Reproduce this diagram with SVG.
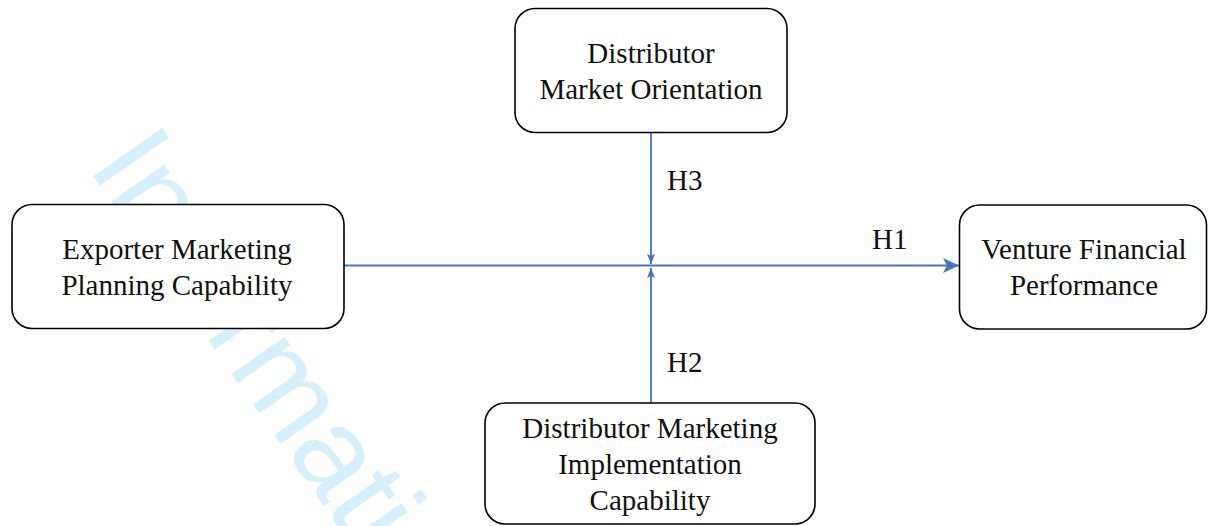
<svg xmlns="http://www.w3.org/2000/svg" width="1208" height="526" viewBox="0 0 1208 526">
  <style>
    .box { fill: #ffffff; stroke: #000000; stroke-width: 1.6; }
    .lbl { font-family: "Liberation Serif", "Times New Roman", serif; font-size: 29px; fill: #111111; text-anchor: middle; }
    .h { font-family: "Liberation Serif", "Times New Roman", serif; font-size: 29px; fill: #111111; }
    .conn { stroke: #4472C4; stroke-width: 1.8; fill: none; }
    .wm { font-family: "Liberation Sans", Arial, sans-serif; font-size: 122px; fill: #D5EFFB; }
  </style>
  <defs>
    <marker id="bigArrow" markerUnits="userSpaceOnUse" markerWidth="16" markerHeight="15" refX="16" refY="7.5" orient="auto">
      <path d="M0,0 L16,7.5 L0,15 L4,7.5 Z" fill="#4472C4"/>
    </marker>
    <marker id="smallArrow" markerUnits="userSpaceOnUse" markerWidth="10" markerHeight="8" refX="10" refY="4" orient="auto">
      <path d="M0,0 L10,4 L0,8 L2,4 Z" fill="#4472C4"/>
    </marker>
  </defs>
  <rect width="1208" height="526" fill="#ffffff"/>
  <g id="watermark">
    <text class="wm" transform="translate(87,167) rotate(55)">Information</text>
  </g>
  <g id="connectors">
    <line class="conn" x1="344" y1="265.5" x2="959" y2="265.5" marker-end="url(#bigArrow)"/>
    <line class="conn" x1="651" y1="132" x2="651" y2="264" marker-end="url(#smallArrow)"/>
    <line class="conn" x1="651" y1="403" x2="651" y2="268" marker-end="url(#smallArrow)"/>
    <text class="h" x="667" y="190">H3</text>
    <text class="h" x="872" y="249">H1</text>
    <text class="h" x="667" y="372">H2</text>
  </g>
  <g id="node-dmo">
    <rect class="box" x="515" y="8.5" width="272" height="124" rx="20"/>
    <text class="lbl" x="651" y="63">Distributor</text>
    <text class="lbl" x="651" y="99">Market Orientation</text>
  </g>
  <g id="node-empc">
    <rect class="box" x="12" y="204.5" width="332" height="124" rx="20"/>
    <text class="lbl" x="177" y="259">Exporter Marketing</text>
    <text class="lbl" x="177" y="295">Planning Capability</text>
  </g>
  <g id="node-vfp">
    <rect class="box" x="959.5" y="205" width="247" height="124" rx="20"/>
    <text class="lbl" x="1084" y="259">Venture Financial</text>
    <text class="lbl" x="1084" y="295">Performance</text>
  </g>
  <g id="node-dmic">
    <rect class="box" x="485" y="403" width="330" height="121" rx="20"/>
    <text class="lbl" x="650" y="438">Distributor Marketing</text>
    <text class="lbl" x="650" y="474">Implementation</text>
    <text class="lbl" x="650" y="510">Capability</text>
  </g>
</svg>
